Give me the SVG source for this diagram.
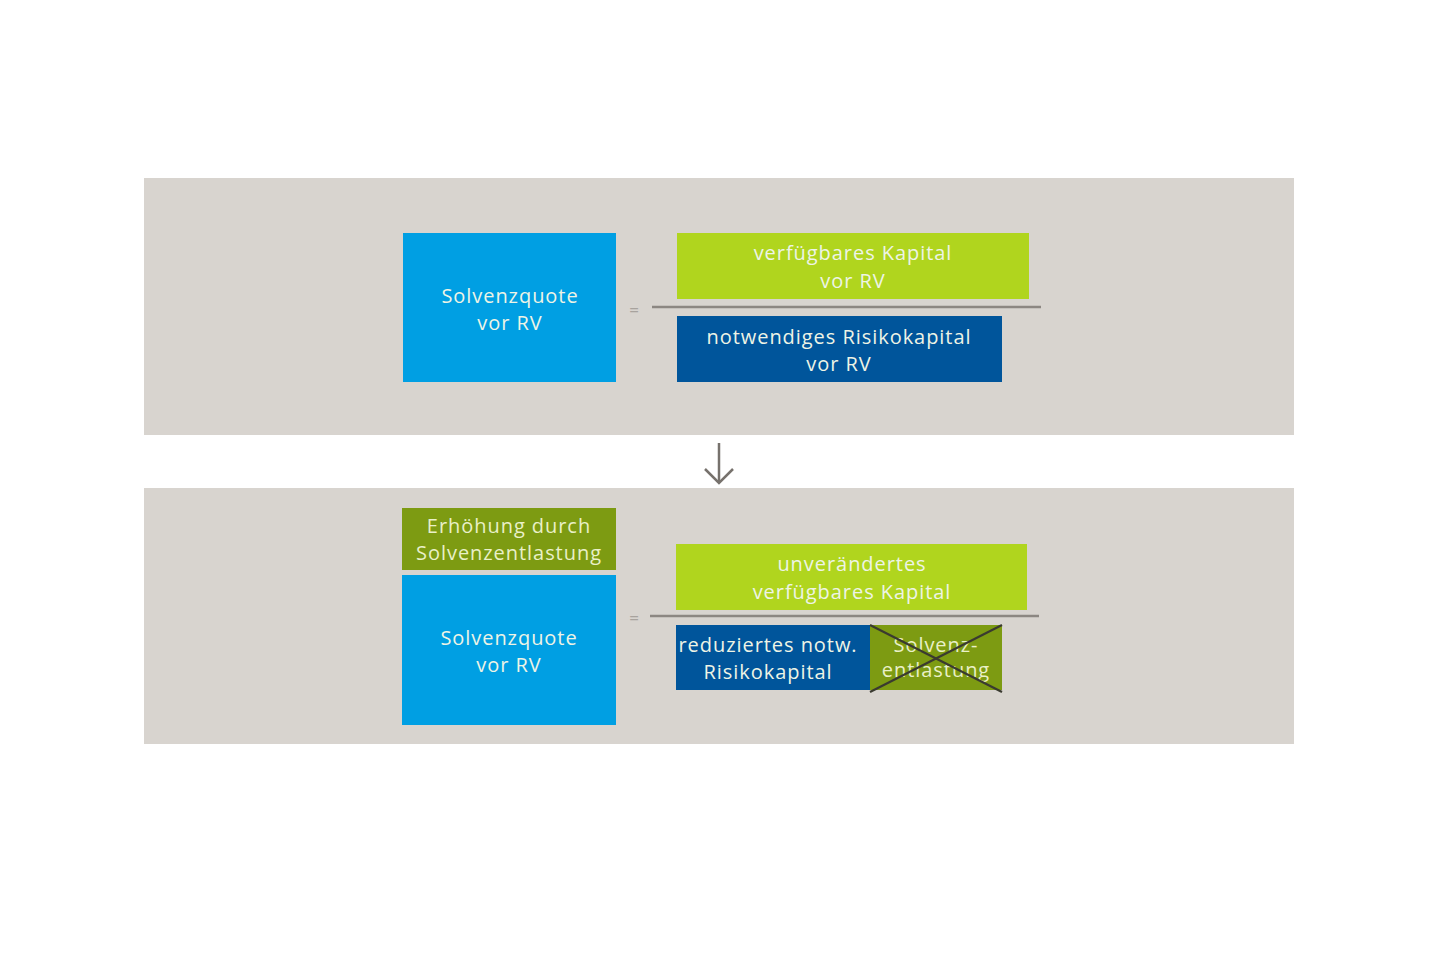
<svg xmlns="http://www.w3.org/2000/svg" width="1440" height="960" viewBox="0 0 1440 960">
<style>
.panel{fill:#d8d4cf}
.blue{fill:#009fe3}
.lime{fill:#b0d51e}
.navy{fill:#00559b}
.olive{fill:#7d9b12}
text{font-family:"Open Sans","Noto Sans",sans-serif;font-size:20px;text-anchor:middle;fill:#eef4e6;letter-spacing:0.95px}
.rule{stroke:#8c8782;stroke-width:2.5;fill:none}
.eq{font-size:17px;fill:#a8a39e;letter-spacing:0}
.cross{stroke:#3a3a30;stroke-width:2.2}
</style>
<rect width="1440" height="960" fill="#ffffff"/>
<rect class="panel" x="144" y="178" width="1150" height="257"/>
<rect class="panel" x="144" y="488" width="1150" height="256"/>

<g id="top-quote">
<rect class="blue" x="403" y="233" width="213" height="149"/>
<text x="510" y="303">Solvenzquote</text>
<text x="510" y="330">vor RV</text>
</g>
<g id="top-eq"><text class="eq" x="634" y="316">=</text></g>
<g id="top-numerator">
<rect class="lime" x="677" y="233" width="352" height="66"/>
<text x="853" y="260">verfügbares Kapital</text>
<text x="853" y="288">vor RV</text>
</g>
<g id="top-denominator">
<rect class="navy" x="677" y="316" width="325" height="66"/>
<text x="839" y="344">notwendiges Risikokapital</text>
<text x="839" y="371">vor RV</text>
</g>

<g id="bottom-increase">
<rect class="olive" x="402" y="508" width="214" height="62"/>
<text x="509" y="533" style="fill:#e9f0c8">Erhöhung durch</text>
<text x="509" y="560" style="fill:#e9f0c8">Solvenzentlastung</text>
</g>
<g id="bottom-quote">
<rect class="blue" x="402" y="575" width="214" height="150"/>
<text x="509" y="645">Solvenzquote</text>
<text x="509" y="672">vor RV</text>
</g>
<g id="bottom-eq"><text class="eq" x="634" y="624">=</text></g>
<g id="bottom-numerator">
<rect class="lime" x="676" y="544" width="351" height="66"/>
<text x="852" y="571">unverändertes</text>
<text x="852" y="599">verfügbares Kapital</text>
</g>
<g id="bottom-reduced">
<rect class="navy" x="676" y="625" width="194" height="65"/>
<text x="768" y="652">reduziertes notw.</text>
<text x="768" y="679">Risikokapital</text>
</g>
<g id="bottom-relief">
<rect class="olive" x="870" y="625" width="132" height="65"/>
<text x="936" y="652" style="fill:#e9f0c8">Solvenz-</text>
<text x="936" y="677" style="fill:#e9f0c8">entlastung</text>
<line class="cross" x1="870" y1="625" x2="1002" y2="692"/>
<line class="cross" x1="1002" y1="625" x2="870" y2="692"/>
</g>

<g id="connectors">
<line class="rule" x1="652" y1="307" x2="1041" y2="307"/>
<line class="rule" x1="650" y1="616" x2="1039" y2="616"/>
<line x1="719" y1="443" x2="719" y2="483" stroke="#77726d" stroke-width="2.5"/>
<polyline points="705,469 719,483 733,469" fill="none" stroke="#77726d" stroke-width="2.5"/>
</g>
</svg>
